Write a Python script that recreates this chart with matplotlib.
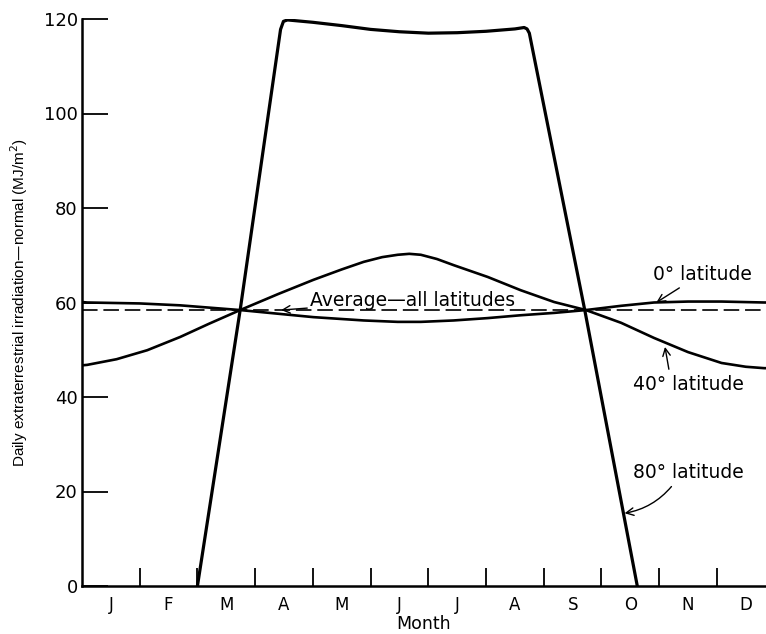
import matplotlib
matplotlib.use("Agg")
import matplotlib.pyplot as plt

plt.rcParams["font.family"] = ["DejaVu Sans"]

# Month labels (ticks at month boundaries, labels at mid-month)
month_labels = ["J", "F", "M", "A", "M", "J", "J", "A", "S", "O", "N", "D"]

# Month position (0 = 1 Jan, 12 = 31 Dec) and irradiation in MJ/m2
lat0_month = [0.0, 0.09, 1.0, 1.70, 2.74, 3.5, 4.01, 4.88, 5.47, 5.87, 6.44,
              7.03, 7.60, 8.18, 8.73, 9.34, 9.91, 10.50, 11.08, 11.82, 11.9]
lat0_value = [60.1, 60.0, 59.8, 59.4, 58.4, 57.5, 56.9, 56.2, 55.9, 55.9, 56.2,
              56.7, 57.3, 57.8, 58.4, 59.3, 60.0, 60.2, 60.2, 60.0, 60.0]

lat40_month = [0.0, 0.09, 0.6, 1.13, 1.70, 2.2, 2.74, 3.4, 4.01, 4.5, 4.88,
               5.2, 5.47, 5.67, 5.87, 6.15, 6.44, 7.03, 7.60, 8.18, 8.73,
               9.34, 9.91, 10.50, 11.08, 11.5, 11.82, 11.9]
lat40_value = [46.7, 46.8, 48.0, 49.9, 52.7, 55.5, 58.4, 61.8, 64.8, 67.0, 68.6,
               69.6, 70.1, 70.3, 70.1, 69.2, 67.9, 65.4, 62.6, 60.1, 58.4,
               55.7, 52.5, 49.5, 47.2, 46.4, 46.1, 46.1]

lat80_month = [2.0, 2.74, 3.44, 3.49, 3.56, 4.0, 4.5, 5.0, 5.5, 6.0, 6.5,
               7.0, 7.5, 7.66, 7.71, 7.75, 8.71, 9.62]
lat80_value = [0.0, 58.4, 117.8, 119.5, 119.8, 119.3, 118.6, 117.8, 117.3,
               117.0, 117.1, 117.4, 117.9, 118.2, 117.9, 117.0, 58.4, 0.0]

avg_month = [0.0, 11.9]
avg_value = [58.4, 58.4]

y_ticks = [0, 20, 40, 60, 80, 100, 120]

fig = plt.figure(figsize=(7.66, 6.34), dpi=100)
ax = fig.add_axes([82 / 766, 48 / 634, 684 / 766, 567 / 634])

ax.plot(avg_month, avg_value, color="#222222", lw=1.4, dashes=(8, 3))
ax.plot(lat0_month, lat0_value, color="black", lw=1.9)
ax.plot(lat40_month, lat40_value, color="black", lw=1.9)
ax.plot(lat80_month, lat80_value, color="black", lw=2.3, solid_joinstyle="round")

ax.set_xlim(0, 11.85)
ax.set_ylim(0, 120)

for side in ["top", "right"]:
    ax.spines[side].set_visible(False)
for side in ["left", "bottom"]:
    ax.spines[side].set_linewidth(1.8)

ax.set_yticks(y_ticks)
ax.set_yticklabels([str(v) for v in y_ticks], fontsize=13)
ax.tick_params(axis="y", direction="in", length=19, width=1.3, pad=3)

ax.set_xticks(range(1, 12))
ax.set_xticklabels([])
ax.tick_params(axis="x", which="major", direction="in", length=13, width=1.3)
ax.set_xticks([m + 0.5 for m in range(12)], minor=True)
ax.set_xticklabels(month_labels, minor=True, fontsize=12)
ax.tick_params(axis="x", which="minor", length=0, pad=7)

ax.set_xlabel("Month", fontsize=12.5)
ax.xaxis.set_label_coords(342 / 684, -29 / 567)
ax.set_ylabel("Daily extraterrestrial irradiation\u2014normal (MJ/m$^2$)",
              fontsize=11, family=["Liberation Sans", "DejaVu Sans"])
ax.yaxis.set_label_coords(-52 / 684, 0.5)

arrow = dict(arrowstyle="->", color="black", lw=1.0)
ax.annotate("Average\u2014all latitudes", xy=(3.45, 58.4), xytext=(3.95, 60.5),
            fontsize=13.5, va="center", ha="left",
            arrowprops=dict(arrow, shrinkA=0, shrinkB=0))
ax.annotate("0\u00b0 latitude", xy=(9.95, 60.0), xytext=(9.9, 66.0),
            fontsize=13.5, va="center", ha="left",
            arrowprops=dict(arrow, shrinkA=2, shrinkB=0, relpos=(0.33, 0.0)))
ax.annotate("40\u00b0 latitude", xy=(10.1, 50.6), xytext=(9.55, 42.7),
            fontsize=13.5, va="center", ha="left",
            arrowprops=dict(arrow, shrinkA=2, shrinkB=0, relpos=(0.33, 1.0)))
ax.annotate("80\u00b0 latitude", xy=(9.4, 15.4), xytext=(9.55, 24.1),
            fontsize=13.5, va="center", ha="left",
            arrowprops=dict(arrow, shrinkA=2, shrinkB=0, relpos=(0.38, 0.0),
                            connectionstyle="arc3,rad=-0.2"))

fig.savefig("out.png", dpi=100)
